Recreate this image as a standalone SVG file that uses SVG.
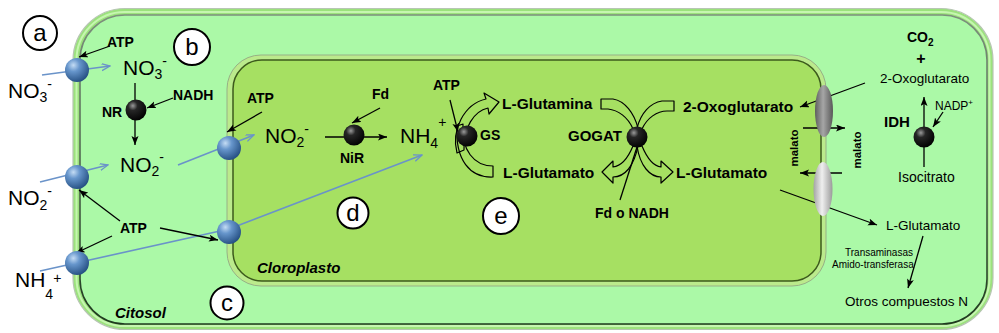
<svg xmlns="http://www.w3.org/2000/svg" width="999" height="333" viewBox="0 0 999 333">
  <defs>
    <radialGradient id="gBlue" cx="35%" cy="30%" r="75%">
      <stop offset="0" stop-color="#c4dcf4"/>
      <stop offset="0.35" stop-color="#6796cc"/>
      <stop offset="1" stop-color="#234d80"/>
    </radialGradient>
    <radialGradient id="gBlack" cx="35%" cy="30%" r="75%">
      <stop offset="0" stop-color="#9a9a9a"/>
      <stop offset="0.3" stop-color="#262626"/>
      <stop offset="1" stop-color="#000"/>
    </radialGradient>
    <linearGradient id="gDarkPore" x1="0" y1="0" x2="1" y2="0">
      <stop offset="0" stop-color="#5e5e5e"/>
      <stop offset="0.45" stop-color="#a6a6a6"/>
      <stop offset="1" stop-color="#585858"/>
    </linearGradient>
    <linearGradient id="gLightPore" x1="0" y1="0" x2="1" y2="0">
      <stop offset="0" stop-color="#a4a4a4"/>
      <stop offset="0.45" stop-color="#efefef"/>
      <stop offset="1" stop-color="#9a9a9a"/>
    </linearGradient>
    <linearGradient id="gCellLine" x1="0" y1="0" x2="0" y2="1">
      <stop offset="0" stop-color="#7d907d"/>
      <stop offset="1" stop-color="#1f3a1f"/>
    </linearGradient>
    <marker id="mBlack" markerUnits="userSpaceOnUse" markerWidth="10" markerHeight="8" refX="9" refY="3.5" orient="auto">
      <path d="M0,0 L9,3.5 L0,7 L2,3.5 Z" fill="#000"/>
    </marker>
    <marker id="mBlue" markerUnits="userSpaceOnUse" markerWidth="10" markerHeight="8" refX="8.5" refY="3.5" orient="auto">
      <path d="M0,0 L8.5,3.5 L0,7" fill="none" stroke="#6a93c9" stroke-width="1.3"/>
    </marker>
  </defs>
  <style>
    text { font-family: "Liberation Sans", Arial, sans-serif; fill: #000; }
    .ion { font-size: 21px; }
    .ionS { font-size: 14px; }
    .lb { font-size: 14px; font-weight: bold; }
    .lbm { font-size: 15.5px; font-weight: bold; }
    .rg { font-size: 13.5px; }
    .sm { font-size: 10px; }
    .it { font-size: 15px; font-weight: bold; font-style: italic; }
    .letter { font-size: 24px; text-anchor: middle; }
    .tag { fill: #fff; stroke: #000; stroke-width: 2; }
    .arr { stroke: #000; stroke-width: 1.3; fill: none; marker-end: url(#mBlack); }
    .plain { stroke: #000; stroke-width: 1.3; fill: none; }
    .blue { stroke: #6a93c9; stroke-width: 1.6; fill: none; marker-end: url(#mBlue); }
    .block { fill: none; stroke: #000; stroke-width: 1.2; stroke-linejoin: round; }
    .pump { fill: url(#gBlue); }
    .enz { fill: url(#gBlack); }
  </style>

  <!-- cell wall and cytosol -->
  <g id="cell">
    <rect x="73" y="8.5" width="920" height="321" rx="52" fill="#9be27c" stroke="#b7c6b3" stroke-width="1.2"/>
    <rect x="76.5" y="12" width="913" height="314" rx="48" fill="none" stroke="#c6f6b0" stroke-width="2"/>
    <rect x="80" y="15" width="907" height="309" rx="45" fill="#abf9a7" stroke="url(#gCellLine)" stroke-width="1.6"/>
  </g>

  <!-- chloroplast -->
  <g id="chloroplast">
    <rect x="227" y="55" width="599" height="231" rx="34" fill="#bbea8c" stroke="#97b086" stroke-width="1"/>
    <rect x="233" y="60" width="588" height="221" rx="29" fill="#a6e062" stroke="#3c5a1c" stroke-width="1.5"/>
  </g>

  <!-- connectors -->
  <g id="connectors">
    <path class="blue" d="M42,75 L110,66"/>
    <path class="blue" d="M40,182 L108,165"/>
    <path class="blue" d="M40,271 L229,229 L422,155"/>
    <path class="blue" d="M178,165 L254,135"/>

    <path class="arr" d="M110,46 L79,57"/>
    <path class="arr" d="M135,83 L135,145"/>
    <path class="arr" d="M173,98 L147,108"/>
    <path class="arr" d="M120,221 L79,190"/>
    <path class="arr" d="M112,236 L76,253"/>
    <path class="arr" d="M160,228 L218,240"/>
    <path class="arr" d="M262,112 L227,132"/>
    <path class="arr" d="M325,137 L387,137"/>
    <path class="arr" d="M380,108 L352,123"/>
    <path class="arr" d="M450,100 L458,132"/>
    <path class="plain" d="M620,200 L637,147"/>
    <path class="arr" d="M865,83 L800,107"/>
    <path class="arr" d="M803,128 L845,128"/>
    <path class="arr" d="M842,173 L800,173"/>
    <path class="arr" d="M780,190 L877,225"/>
    <path class="arr" d="M923,236 L908,288"/>
    <path class="arr" d="M924,167 L924,97"/>
    <path class="arr" d="M943,112 L933,127"/>

    <!-- GS cycle -->
    <path class="block" d="M457,153 C451,130 464,104 486,99 L484,93 L499,102 L489,114 L488,108 C474,111 463,128 464,150 Z"/>
    <path class="block" d="M493,166 L493,177 C470,178 455,160 457,126 L463,124 C461,150 474,166 493,166 Z"/>
    <!-- GOGAT exchange -->
    <path class="block" d="M601,99 L613,99 C625,101 634,113 638,128 L633,129 C628,117 618,110 608,109 L601,109 Z"/>
    <path class="block" d="M674,101 L662,101 C650,103 641,113 637,128 L642,129 C647,118 657,111 667,111 L674,111 Z"/>
    <path class="block" d="M633,146 C628,158 622,166 613,167 L613,161 L602,172 L613,183 L613,177 C625,177 634,166 638,146 Z"/>
    <path class="block" d="M642,146 C647,158 653,166 661,167 L661,161 L673,172 L661,183 L661,177 C650,177 640,166 637,146 Z"/>
  </g>

  <!-- membrane carriers -->
  <g id="carrier-no3"><circle class="pump" cx="77" cy="70" r="12"/></g>
  <g id="carrier-no2"><circle class="pump" cx="77" cy="177" r="12"/></g>
  <g id="carrier-nh4"><circle class="pump" cx="77" cy="263" r="12"/></g>
  <g id="carrier-cp-no2"><circle class="pump" cx="229" cy="148" r="12"/></g>
  <g id="carrier-cp-nh4"><circle class="pump" cx="229" cy="232" r="12"/></g>
  <g id="pore-oxo"><ellipse cx="824" cy="111" rx="9" ry="26" fill="url(#gDarkPore)"/></g>
  <g id="pore-glu"><ellipse cx="823" cy="189" rx="9.5" ry="27" fill="url(#gLightPore)"/></g>

  <!-- enzymes -->
  <g id="nr"><circle class="enz" cx="136" cy="110" r="10.5"/><text class="lb" x="102" y="117">NR</text></g>
  <g id="nir"><circle class="enz" cx="354" cy="135" r="10.5"/><text class="lb" x="340" y="163">NiR</text></g>
  <g id="gs"><circle class="enz" cx="467" cy="136" r="10.5"/><text class="lb" x="480" y="140">GS</text></g>
  <g id="gogat"><circle class="enz" cx="637" cy="137" r="10.5"/><text class="lb" style="font-size:15px" x="568" y="141">GOGAT</text></g>
  <g id="idh"><circle class="enz" cx="924" cy="137" r="10.5"/><text class="lb" style="font-size:15px" x="884" y="127">IDH</text></g>

  <!-- ions -->
  <g id="no3-out"><text class="ion" x="8" y="98">NO<tspan class="ionS" y="102">3</tspan><tspan class="ionS" y="89">-</tspan></text></g>
  <g id="no3-in"><text class="ion" x="123" y="75">NO<tspan class="ionS" y="79">3</tspan><tspan class="ionS" y="66">-</tspan></text></g>
  <g id="no2-in"><text class="ion" x="120" y="172">NO<tspan class="ionS" y="176">2</tspan><tspan class="ionS" y="162">-</tspan></text></g>
  <g id="no2-out"><text class="ion" x="8" y="205">NO<tspan class="ionS" y="210">2</tspan><tspan class="ionS" y="196">-</tspan></text></g>
  <g id="nh4-out"><text class="ion" x="15" y="287">NH<tspan class="ionS" y="299">4</tspan><tspan class="ionS" y="283">+</tspan></text></g>
  <g id="no2-cp"><text class="ion" x="265" y="143">NO<tspan class="ionS" y="147">2</tspan><tspan class="ionS" y="134">-</tspan></text></g>
  <g id="nh4-cp"><text class="ion" x="400" y="143">NH<tspan class="ionS" y="148">4</tspan><tspan class="ionS" y="127">+</tspan></text></g>

  <!-- cofactors -->
  <g id="atp-1"><text class="lb" x="107" y="47">ATP</text></g>
  <g id="nadh"><text class="lb" x="173" y="100">NADH</text></g>
  <g id="atp-2"><text class="lb" x="120" y="233">ATP</text></g>
  <g id="atp-3"><text class="lb" x="247" y="103">ATP</text></g>
  <g id="fd"><text class="lb" x="372" y="99">Fd</text></g>
  <g id="atp-4"><text class="lb" x="433" y="90">ATP</text></g>
  <g id="fd-nadh"><text class="lb" x="595" y="218">Fd o NADH</text></g>

  <!-- metabolites -->
  <g id="gln"><text class="lbm" x="502" y="109">L-Glutamina</text></g>
  <g id="glu-gs"><text class="lbm" x="503" y="178">L-Glutamato</text></g>
  <g id="oxo-cp"><text class="lbm" x="683" y="112">2-Oxoglutarato</text></g>
  <g id="glu-cp"><text class="lbm" x="676" y="178">L-Glutamato</text></g>
  <g id="malato-in"><text class="lb" style="font-size:11.5px" text-anchor="middle" transform="translate(798,148) rotate(-90)">malato</text></g>
  <g id="malato-out"><text class="lb" style="font-size:11.5px" text-anchor="middle" transform="translate(861,150) rotate(-90)">malato</text></g>
  <g id="co2"><text class="lb" x="907" y="42">CO<tspan style="font-size:10px" y="46">2</tspan></text>
    <text class="lb" style="font-size:16px" text-anchor="middle" x="921" y="64">+</text>
    <text class="rg" x="880" y="83">2-Oxoglutarato</text></g>
  <g id="nadp"><text style="font-size:12px" x="935" y="110">NADP<tspan style="font-size:8px" y="105">+</tspan></text></g>
  <g id="isocitrato"><text style="font-size:14px" x="898" y="182">Isocitrato</text></g>
  <g id="glu-cyt"><text class="rg" x="886" y="230">L-Glutamato</text></g>
  <g id="transam"><text class="sm" x="845" y="256">Transaminasas</text><text class="sm" x="832" y="268">Amido-transferasa</text></g>
  <g id="otros"><text class="rg" x="845" y="306">Otros compuestos N</text></g>

  <!-- compartment names -->
  <g id="lbl-citosol"><text class="it" x="115" y="318">Citosol</text></g>
  <g id="lbl-cloroplasto"><text class="it" x="257" y="273">Cloroplasto</text></g>

  <!-- panel tags -->
  <g id="tag-a"><circle class="tag" cx="40" cy="33" r="17"/><text class="letter" x="40" y="41">a</text></g>
  <g id="tag-b"><circle class="tag" cx="192" cy="47" r="18"/><text class="letter" x="192" y="55">b</text></g>
  <g id="tag-c"><circle class="tag" cx="227" cy="303" r="16.5"/><text class="letter" x="227" y="311">c</text></g>
  <g id="tag-d"><circle class="tag" cx="353" cy="213" r="15.5"/><text class="letter" x="353" y="221">d</text></g>
  <g id="tag-e"><circle class="tag" cx="501" cy="216" r="18"/><text class="letter" x="501" y="224">e</text></g>
</svg>
